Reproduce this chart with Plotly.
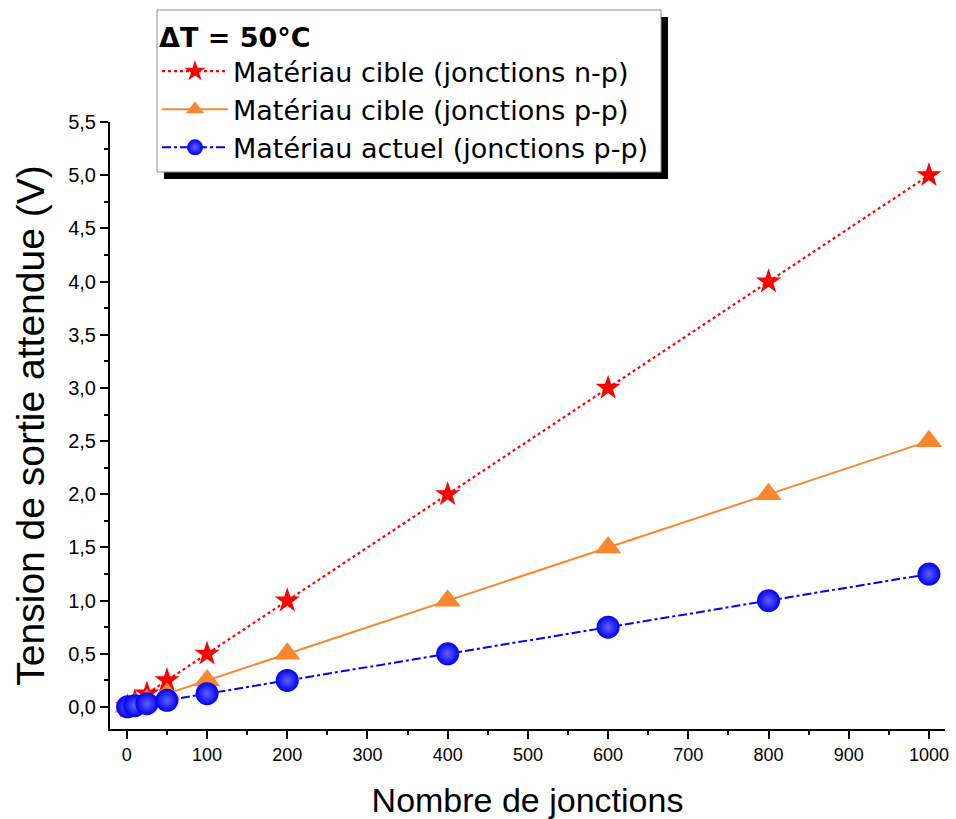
import plotly.graph_objects as go

junctions = [1, 10, 25, 50, 100, 200, 400, 600, 800, 1000]
cible_np = [0.005, 0.05, 0.125, 0.25, 0.5, 1.0, 2.0, 3.0, 4.0, 5.0]
cible_pp = [0.0025, 0.025, 0.0625, 0.125, 0.25, 0.5, 1.0, 1.5, 2.0, 2.5]
actuel_pp = [0.00125, 0.0125, 0.03125, 0.0625, 0.125, 0.25, 0.5, 0.75, 1.0, 1.25]

series_names = [
    "Matériau cible (jonctions n-p)",
    "Matériau cible (jonctions p-p)",
    "Matériau actuel (jonctions p-p)",
]
legend_title = "ΔT = 50°C"
x_title = "Nombre de jonctions"
y_title = "Tension de sortie attendue (V)"

x_tickvals = [0, 100, 200, 300, 400, 500, 600, 700, 800, 900, 1000]
x_ticktext = ["0", "100", "200", "300", "400", "500", "600", "700", "800", "900", "1000"]
y_tickvals = [0, 0.5, 1.0, 1.5, 2.0, 2.5, 3.0, 3.5, 4.0, 4.5, 5.0, 5.5]
y_ticktext = ["0,0", "0,5", "1,0", "1,5", "2,0", "2,5", "3,0", "3,5", "4,0", "4,5", "5,0", "5,5"]

FONT = "Arial, Liberation Sans, sans-serif"
LEG_FONT = "DejaVu Sans, Arial, sans-serif"

W, H = 956, 819
ML, MR, MT, MB = 110, 11, 122, 90
PW, PH = W - ML - MR, H - MT - MB


def px_to_paper_x(px):
    return (px - ML) / PW


def px_to_paper_y(py):
    return (H - MB - py) / PH


fig = go.Figure()
fig.add_trace(go.Scatter(
    x=junctions, y=cible_np, name=series_names[0], mode="lines+markers",
    line=dict(color="#ff0000", width=2.2, dash="dot"),
    marker=dict(symbol="star", size=19, color="#ff0000", line=dict(width=0)),
))
fig.add_trace(go.Scatter(
    x=junctions, y=cible_pp, name=series_names[1], mode="lines+markers",
    line=dict(color="#f7882f", width=2),
    marker=dict(symbol="triangle-up", size=23, color="#f7882f", line=dict(width=0)),
))
fig.add_trace(go.Scatter(
    x=junctions, y=actuel_pp, name=series_names[2], mode="lines+markers",
    line=dict(color="#0000ff", width=2, dash="dashdot"),
    marker=dict(symbol="circle", size=23, color="#0000f0",
                gradient=dict(type="radial", color="#6060ff"),
                line=dict(width=0)),
))

# legend shadow and box
fig.add_shape(type="rect", xref="paper", yref="paper",
              x0=px_to_paper_x(164), x1=px_to_paper_x(668),
              y0=px_to_paper_y(179), y1=px_to_paper_y(17),
              fillcolor="black", line=dict(width=0), layer="below")
fig.add_shape(type="rect", xref="paper", yref="paper",
              x0=px_to_paper_x(157), x1=px_to_paper_x(661),
              y0=px_to_paper_y(172), y1=px_to_paper_y(10),
              fillcolor="white", line=dict(width=1, color="#8c8c8c"), layer="below")

fig.update_layout(
    width=W, height=H,
    margin=dict(l=ML, r=MR, t=MT, b=MB, autoexpand=False),
    paper_bgcolor="white", plot_bgcolor="white",
    font=dict(family=FONT, color="black"),
    showlegend=True,
    legend=dict(
        x=px_to_paper_x(157), y=px_to_paper_y(12), xanchor="left", yanchor="top",
        bgcolor="rgba(0,0,0,0)", borderwidth=0,
        font=dict(size=27, family=LEG_FONT, color="black"),
        title=dict(text="<b>" + legend_title + "</b>", font=dict(size=27, family=LEG_FONT)),
        tracegroupgap=0, itemwidth=66,
    ),
    xaxis=dict(
        range=[-21, 1020], showgrid=False, zeroline=False,
        showline=True, linecolor="black", linewidth=2,
        ticks="outside", ticklen=8, tickwidth=2, tickcolor="black",
        tickmode="array", tickvals=x_tickvals, ticktext=x_ticktext,
        tickfont=dict(size=18, family=FONT),
        minor=dict(ticks="outside", ticklen=4, tickwidth=2, tickcolor="black", dtick=50, tick0=0),
        title=dict(text=x_title, font=dict(size=34, family=FONT), standoff=31),
    ),
    yaxis=dict(
        range=[-0.207, 5.501], showgrid=False, zeroline=False,
        showline=True, linecolor="black", linewidth=2,
        ticks="outside", ticklen=8, tickwidth=2, tickcolor="black",
        tickmode="array", tickvals=y_tickvals, ticktext=y_ticktext,
        tickfont=dict(size=20, family=FONT),
        minor=dict(ticks="outside", ticklen=4, tickwidth=2, tickcolor="black", dtick=0.25, tick0=0),
        title=dict(text=y_title, font=dict(size=39, family=FONT), standoff=12),
    ),
)

fig.write_html("out.html", config={"displayModeBar": False},
               post_script="document.body.style.margin='0';document.body.style.padding='0';")
